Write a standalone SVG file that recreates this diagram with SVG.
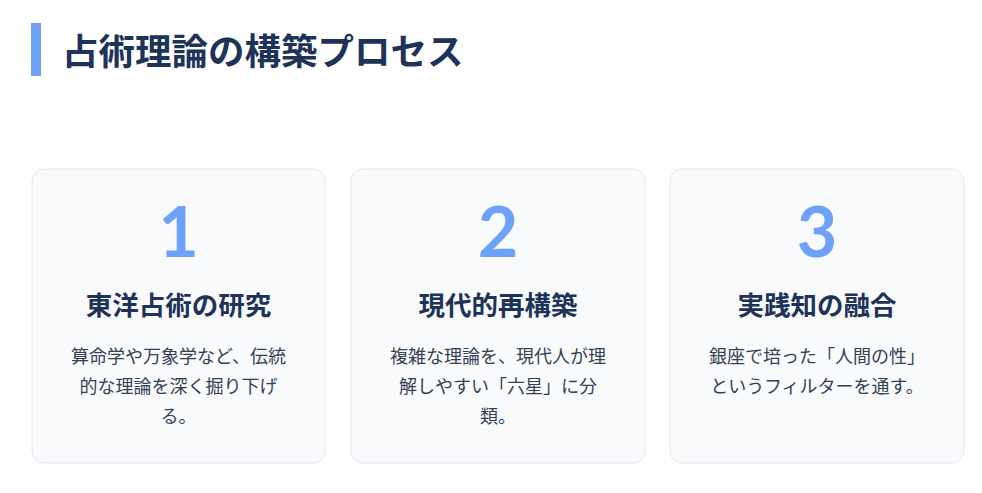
<svg xmlns="http://www.w3.org/2000/svg" width="982" height="493" viewBox="0 0 982 493">
<style>
.card{fill:#f8fafc;stroke:#e2e8f0;stroke-width:1}
.num{font-family:"Lato","Noto Sans",sans-serif;font-size:70px;font-weight:700;fill:#6ea2f8;text-anchor:middle}
.head{font-family:"Noto Sans CJK JP",sans-serif;font-size:26.5px;font-weight:700;fill:#1e3358;text-anchor:middle}
.body{font-family:"Noto Sans CJK JP",sans-serif;font-size:18px;font-weight:400;fill:#334155;text-anchor:middle}
.title{font-family:"Noto Sans CJK JP",sans-serif;font-size:36.5px;font-weight:700;fill:#1e3358}
</style>
<rect width="982" height="493" fill="#ffffff"/>
<g id="title">
<rect x="31" y="23" width="10" height="53" fill="#6ea2f8"/>
<text class="title" x="62" y="65">占術理論の構築プロセス</text>
</g>
<g id="card1">
<rect class="card" x="32" y="169" width="293" height="294" rx="12"/>
<text class="num" x="178.5" y="257">1</text>
<text class="head" x="178.5" y="315">東洋占術の研究</text>
<text class="body" x="178.5" y="363">算命学や万象学など、伝統</text>
<text class="body" x="178.5" y="393">的な理論を深く掘り下げ</text>
<text class="body" x="178.5" y="423">る。</text>
</g>
<g id="card2">
<rect class="card" x="351" y="169" width="294" height="294" rx="12"/>
<text class="num" x="498" y="257">2</text>
<text class="head" x="498" y="315">現代的再構築</text>
<text class="body" x="498" y="363">複雑な理論を、現代人が理</text>
<text class="body" x="498" y="393">解しやすい「六星」に分</text>
<text class="body" x="498" y="423">類。</text>
</g>
<g id="card3">
<rect class="card" x="670" y="169" width="294" height="294" rx="12"/>
<text class="num" x="817" y="257">3</text>
<text class="head" x="817" y="315">実践知の融合</text>
<text class="body" x="817" y="363">銀座で培った「人間の性」</text>
<text class="body" x="817" y="393">というフィルターを通す。</text>
</g>
<g id="connectors"></g>
</svg>
